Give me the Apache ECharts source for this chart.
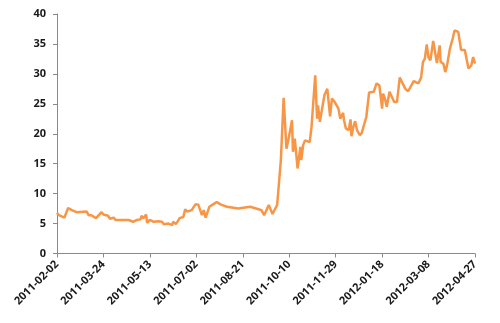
<!DOCTYPE html>
<html>
<head>
<meta charset="utf-8">
<script src="https://cdn.jsdelivr.net/npm/echarts@6/dist/echarts.min.js"></script>
<style>html,body{margin:0;padding:0;background:#fff}#c{width:500px;height:323px}</style>
</head>
<body>
<div id="c"></div>
<script>
const startDate = '2011-02-02';
const endDate = '2012-04-27';
const tickStepDays = 50;
const yTicks = [0, 5, 10, 15, 20, 25, 30, 35, 40];

const dates = [
'2011-02-02','2011-02-04','2011-02-07','2011-02-10','2011-02-14','2011-02-18','2011-02-23','2011-03-06','2011-03-08','2011-03-11',
'2011-03-16','2011-03-22','2011-03-24','2011-03-29','2011-03-31','2011-04-04','2011-04-06','2011-04-20','2011-04-25','2011-04-27',
'2011-04-29','2011-05-03','2011-05-04','2011-05-05','2011-05-06','2011-05-09','2011-05-10','2011-05-13','2011-05-17','2011-05-19',
'2011-05-22','2011-05-26','2011-05-28','2011-05-29','2011-06-02','2011-06-04','2011-06-06','2011-06-07','2011-06-10','2011-06-14',
'2011-06-18','2011-06-20','2011-06-22','2011-06-27','2011-07-01','2011-07-04','2011-07-08','2011-07-10','2011-07-12','2011-07-16',
'2011-07-20','2011-07-24','2011-07-28','2011-08-04','2011-08-16','2011-08-29','2011-08-31','2011-09-07','2011-09-10','2011-09-13',
'2011-09-18','2011-09-22','2011-09-27','2011-09-28','2011-10-01','2011-10-04','2011-10-07','2011-10-09','2011-10-11','2011-10-13',
'2011-10-14','2011-10-16','2011-10-19','2011-10-22','2011-10-23','2011-10-25','2011-10-27','2011-11-01','2011-11-03','2011-11-07',
'2011-11-09','2011-11-10','2011-11-12','2011-11-14','2011-11-17','2011-11-20','2011-11-23','2011-11-25','2011-11-28','2011-12-02',
'2011-12-04','2011-12-07','2011-12-08','2011-12-10','2011-12-13','2011-12-15','2011-12-16','2011-12-18','2011-12-20','2011-12-22',
'2011-12-25','2011-12-27','2011-12-29','2012-01-01','2012-01-04','2012-01-09','2012-01-12','2012-01-15','2012-01-18','2012-01-19',
'2012-01-21','2012-01-23','2012-01-26','2012-01-27','2012-01-31','2012-02-03','2012-02-06','2012-02-12','2012-02-15','2012-02-21',
'2012-02-23','2012-02-26','2012-02-29','2012-03-02','2012-03-04','2012-03-06','2012-03-08','2012-03-10','2012-03-13','2012-03-17',
'2012-03-20','2012-03-21','2012-03-24','2012-03-26','2012-03-28','2012-03-31','2012-04-03','2012-04-05','2012-04-09','2012-04-12',
'2012-04-16','2012-04-20','2012-04-23','2012-04-25','2012-04-27'
];

const values = [
6.8,6.4,6.2,6.0,7.6,7.25,6.9,7.0,6.4,6.4,
5.9,6.9,6.5,6.3,5.8,6.0,5.6,5.6,5.3,5.0,
5.6,5.7,6.3,6.5,5.9,6.5,5.1,5.6,5.3,5.3,
5.4,5.3,4.9,4.9,5.0,4.9,4.75,5.3,4.9,5.9,
6.1,7.4,7.0,7.25,8.2,8.2,6.4,7.25,6.0,7.8,
8.2,8.6,8.2,7.8,7.5,7.8,7.9,7.4,7.25,6.4,
8.1,6.6,8.1,8.3,15.6,26.0,17.5,18.9,18.6,22.25,
17.0,19.2,14.2,17.8,15.6,18.1,18.9,18.6,21.1,29.75,
22.5,24.75,22.0,22.0,26.5,27.5,22.9,25.9,25.3,24.2,
22.5,23.5,22.25,20.9,20.6,22.4,19.6,21.1,22.1,20.6,
19.75,20.1,20.3,22.8,26.9,27.0,28.4,28.1,24.2,26.7,
25.9,24.5,27.0,27.25,25.3,25.3,29.4,27.5,27.1,28.8,
28.8,28.4,29.4,32.0,32.5,34.9,32.7,32.25,35.5,31.8,
34.75,32.0,31.7,30.3,31.5,34.2,35.9,37.25,37.0,34.0,
34.0,30.9,31.4,32.8,31.7
];

const DAY = 86400000;
const t0 = Date.parse(startDate);
const dayOf = d => Math.round((Date.parse(d) - t0) / DAY);
const dateOf = n => new Date(t0 + n * DAY).toISOString().slice(0, 10);
const points = dates.map((d, i) => [dayOf(d), values[i]]);

const chart = echarts.init(document.getElementById('c'), null, {renderer: 'canvas'});
const labelFont = {fontFamily: 'Open Sans, Liberation Sans, sans-serif', fontSize: 11, fontWeight: 'bold', color: '#1a1a1a'};
chart.setOption({
  animation: false,
  backgroundColor: '#ffffff',
  grid: {left: 57, right: 25, top: 14, bottom: 69.5},
  xAxis: {
    type: 'value',
    min: 0,
    max: dayOf(endDate),
    interval: tickStepDays,
    splitLine: {show: false},
    axisLine: {show: true, lineStyle: {color: '#8a8a8a', width: 1}},
    axisTick: {show: true, length: 4, lineStyle: {color: '#8a8a8a'}},
    axisLabel: Object.assign({rotate: 45, margin: 9, formatter: v => dateOf(v), showMinLabel: true, showMaxLabel: true}, labelFont)
  },
  yAxis: {
    type: 'value',
    min: yTicks[0],
    max: yTicks[yTicks.length - 1],
    interval: yTicks[1] - yTicks[0],
    splitLine: {show: false},
    axisLine: {show: true, lineStyle: {color: '#8a8a8a', width: 1}},
    axisTick: {show: true, length: 4, lineStyle: {color: '#8a8a8a'}},
    axisLabel: Object.assign({margin: 11}, labelFont)
  },
  series: [{
    type: 'line',
    data: points,
    showSymbol: false,
    symbol: 'none',
    lineStyle: {color: '#F79646', width: 2.5},
    itemStyle: {color: '#F79646'}
  }]
});
</script>
</body>
</html>
